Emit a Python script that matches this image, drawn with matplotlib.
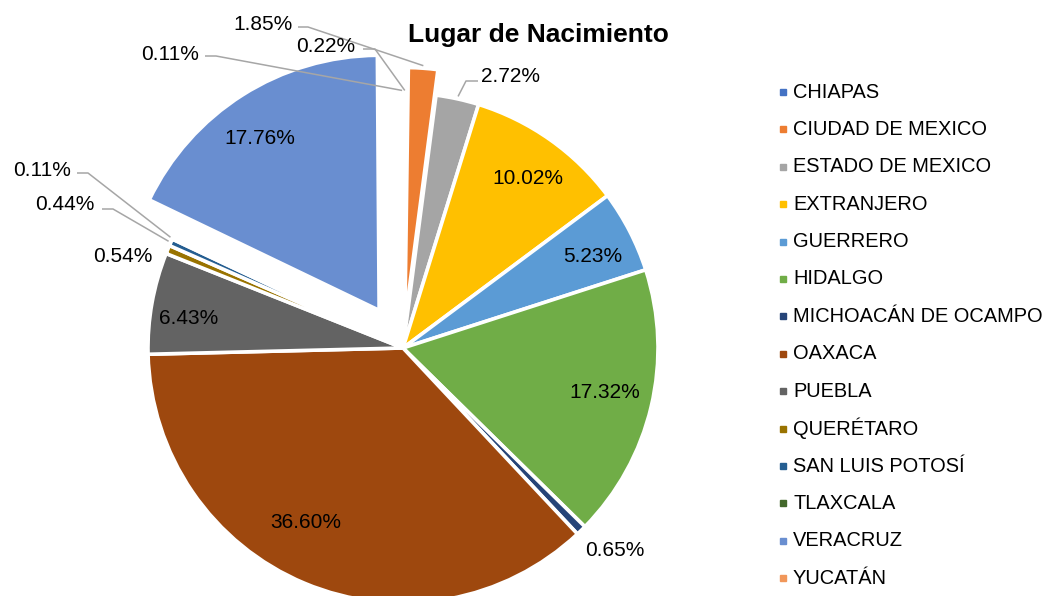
import matplotlib
matplotlib.use('agg')
import matplotlib.pyplot as plt
import numpy as np

plt.rcParams['font.family'] = ['Liberation Sans', 'DejaVu Sans']

# data (percent of total)
categories = ['CHIAPAS', 'CIUDAD DE MEXICO', 'ESTADO DE MEXICO', 'EXTRANJERO',
              'GUERRERO', 'HIDALGO', 'MICHOACÁN DE OCAMPO', 'OAXACA', 'PUEBLA',
              'QUERÉTARO', 'SAN LUIS POTOSÍ', 'TLAXCALA', 'VERACRUZ', 'YUCATÁN']
percentages = [0.22, 1.85, 2.72, 10.02, 5.23, 17.32, 0.65, 36.60, 6.43,
               0.54, 0.44, 0.11, 17.76, 0.11]
title = 'Lugar de Nacimiento'

colors = ['#4472C4', '#ED7D31', '#A5A5A5', '#FFC000', '#5B9BD5', '#70AD47',
          '#264478', '#9E480E', '#636363', '#997300', '#255E91', '#43682B',
          '#698ED0', '#F1975A']
# explode as a fraction of the radius
explode = [0, 0.1, 0, 0, 0, 0, 0, 0, 0, 0, 0, 0, 0.175, 0]

# layout in pixels (top-left origin): label centre, and optional leader elbow
label_layout = {
    'CHIAPAS': ((326, 46), [(363, 49), (375, 49)]),
    'CIUDAD DE MEXICO': ((263, 24), [(298, 27), (308, 27)]),
    'ESTADO DE MEXICO': ((511, 77), [(478, 81), (466, 81)]),
    'EXTRANJERO': ((528, 179), None),
    'GUERRERO': ((593, 256), None),
    'HIDALGO': ((605, 392), None),
    'MICHOACÁN DE OCAMPO': ((615, 551), None),
    'OAXACA': ((306, 522), None),
    'PUEBLA': ((189, 318), None),
    'QUERÉTARO': ((123, 257), None),
    'SAN LUIS POTOSÍ': ((65, 205), [(102, 209), (113, 209)]),
    'TLAXCALA': ((42, 170), [(77, 173), (88, 173)]),
    'VERACRUZ': ((260, 138), None),
    'YUCATÁN': ((170, 54), [(205, 56), (216, 56)]),
}

W, H = 1044, 596


def px(x, y):
    return x, H - y


fig = plt.figure(figsize=(W / 100, H / 100), dpi=100)
ax = fig.add_axes([0, 0, 1, 1])

cx, cy = px(403, 348)
R = 255
# pie's explode is in data units, so scale by the radius
wedges, _ = ax.pie(percentages, colors=colors, explode=[e * R for e in explode],
                   startangle=90, counterclock=False,
                   center=(cx, cy), radius=R, frame=True,
                   wedgeprops=dict(edgecolor='white', linewidth=2.6))
ax.set_xlim(0, W)
ax.set_ylim(0, H)
ax.set_aspect('equal')
ax.axis('off')

for w, name, val in zip(wedges, categories, percentages):
    pos, elbow = label_layout[name]
    ax.text(*px(*pos), f'{val:.2f}%', fontsize=15, ha='center', va='center',
            color='#000000')
    if elbow:
        mid = np.deg2rad((w.theta1 + w.theta2) / 2)
        wx = w.center[0] + w.r * 1.01 * np.cos(mid)
        wy = w.center[1] + w.r * 1.01 * np.sin(mid)
        pts = [px(*p) for p in elbow] + [(wx, wy)]
        xs, ys = zip(*pts)
        ax.plot(xs, ys, color='#A6A6A6', lw=1.1, solid_capstyle='butt')

ax.text(*px(538, 35), title, fontsize=19, fontweight='bold',
        ha='center', va='center')

# legend on the right
for i, (name, c) in enumerate(zip(categories, colors)):
    ly = 92 + i * 37.4
    ax.plot(*px(783, ly), marker='s', markersize=4.5, color=c, ls='none')
    ax.text(*px(793, ly), name, fontsize=14.4, ha='left', va='center')

fig.savefig('out.png', dpi=100)
